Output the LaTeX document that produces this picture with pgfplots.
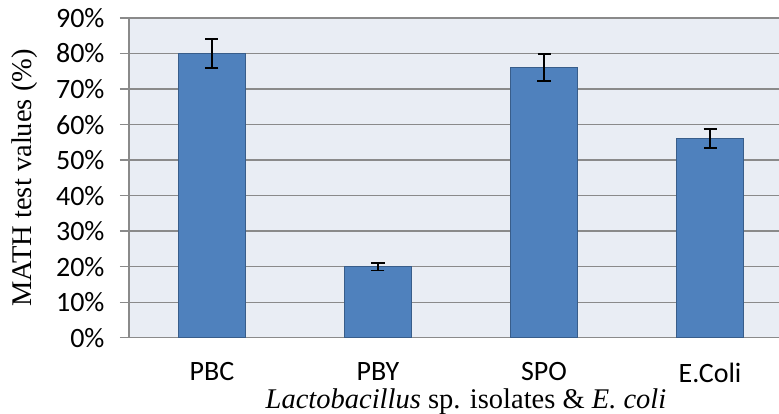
\documentclass[border=0pt]{standalone}
\usepackage{fontspec}
\setmainfont{Carlito}
\newfontfamily\tnr{Liberation Serif}
\usepackage{pgfplots}
\pgfplotsset{compat=1.18}
\definecolor{barfill}{HTML}{4F81BD}
\definecolor{baredge}{HTML}{385D8A}
\definecolor{plotbg}{HTML}{E9EDF4}
\definecolor{gridc}{HTML}{8A8A8A}

\begin{document}
\begin{tikzpicture}
\begin{axis}[
  width=650bp, height=319.7bp, scale only axis,
  xmin=-0.5, xmax=3.4157, ymin=0, ymax=90,
  axis x line*=bottom, axis y line*=left,
  axis line style={gridc, line width=1.3bp},
  axis background/.style={fill=plotbg},
  xtick={0,1,2,3}, xticklabels={PBC,PBY,SPO,E.Coli},
  major x tick style={draw=none},
  extra x ticks={-0.5,0.5,1.5,2.5}, extra x tick labels={},
  extra x tick style={major tick length=9bp, tick align=outside,
    tick style={draw=gridc, line width=1.3bp}},
  ytick={0,10,...,90},
  yticklabel={\pgfmathprintnumber{\tick}\%},
  /pgf/number format/assume math mode=true,
  ymajorgrids, grid style={gridc, line width=1.3bp},
  y tick style={draw=gridc, line width=1.3bp},
  tick align=outside, major tick length=9bp,
  ticklabel style={font=\fontsize{28bp}{30bp}\selectfont},
  xticklabel style={yshift=-16bp, inner sep=0pt, outer sep=0pt},
  yticklabel style={xshift=-12bp},
  label style={font=\tnr\fontsize{28.5bp}{32bp}\selectfont},
  xlabel={\textit{Lactobacillus} sp. isolates \& \textit{E. coli}},
  xlabel style={at={([xshift=12bp,yshift=-70.3bp]rel axis cs:0.5,0)}, anchor=base, inner sep=0pt},
  ylabel={MATH test values (\%)},
  ylabel style={at={([xshift=-97bp]rel axis cs:0,0.5)}, anchor=base},
]
\addplot[ybar, bar width=67bp, fill=barfill, draw=baredge, line width=1.2bp,
  error bars/.cd, y dir=both, y explicit,
  error bar style={black, line width=1.8bp},
  error mark options={black, rotate=90, mark size=6.5bp, line width=1.8bp}]
  coordinates {
    (0,80) +- (0,4.0)
    (1,20) +- (0,1.1)
    (2,76) +- (0,3.8)
    (3,56) +- (0,2.7)
  };
\coordinate (sw) at (rel axis cs:0,0);
\coordinate (ne) at (rel axis cs:1,1);
\end{axis}
\pgfresetboundingbox
\path ([shift={(-129bp,-76.3bp)}]sw) rectangle ([shift={(0bp,18bp)}]ne);
\end{tikzpicture}
\end{document}
